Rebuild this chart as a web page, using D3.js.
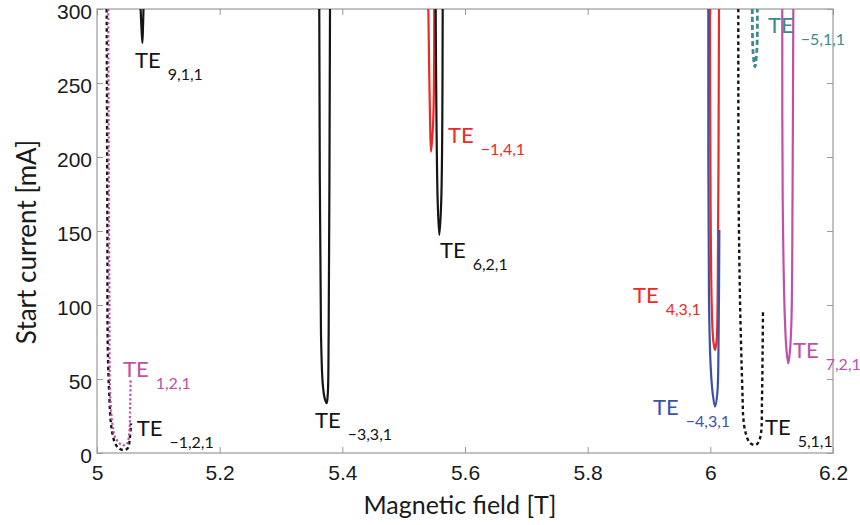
<!DOCTYPE html>
<html>
<head>
<meta charset="utf-8">
<title>Start current vs magnetic field</title>
<script src="https://cdn.jsdelivr.net/npm/d3@7"></script>
<style type="text/css">
    body { margin: 0; background: #fff; overflow: hidden; }
    #container svg { font-family: Lato, 'Open Sans', sans-serif; }
</style>
</head>
<body>
<div id="container"></div>
<script>
    // tick values
    var xTicks = [5, 5.2, 5.4, 5.6, 5.8, 6, 6.2];
    var yTicks = [0, 50, 100, 150, 200, 250, 300];

    // mode names (subscripts of TE)
    var modeNames = ["9,1,1", "\u22123,3,1", "\u22121,4,1", "6,2,1", "\u22121,2,1", "1,2,1",
                     "4,3,1", "\u22124,3,1", "5,1,1", "\u22125,1,1", "7,2,1"];

    // [B (T), start current (mA)]
    var te911 = [[5.0711, 300], [5.0724, 288], [5.0740, 277], [5.0750, 288], [5.0758, 300]];
    var teM331 = [[5.3624, 300], [5.3652, 81], [5.3680, 47], [5.3712, 37], [5.3745, 33.6],
                  [5.3763, 40], [5.3777, 81], [5.3799, 300]];
    var teM141 = [[5.5402, 300], [5.5430, 225], [5.5446, 203.6], [5.5482, 225], [5.5499, 300]];
    var te621 = [[5.5522, 300], [5.5554, 171], [5.5581, 147.3], [5.5613, 171], [5.5636, 300]];
    var teM121 = [[5.0158, 300], [5.0170, 150], [5.0176, 72], [5.0201, 38], [5.0223, 22],
                  [5.0250, 13.5], [5.0293, 6.8], [5.0347, 3.4], [5.0429, 2], [5.0500, 3.2],
                  [5.0538, 11], [5.0554, 20]];
    var te121 = [[5.0184, 300], [5.0201, 117], [5.0217, 38], [5.0250, 20], [5.0293, 11],
                 [5.0401, 5.4], [5.0483, 6], [5.0527, 13.3], [5.0538, 27], [5.0549, 50.5]];
    var te431 = [[5.9994, 300], [6.0021, 103], [6.0048, 76], [6.0076, 69.6], [6.0102, 76],
                 [6.0119, 103], [6.0141, 300]];
    var teM431 = [[5.9967, 300], [5.9978, 103], [6.0006, 58], [6.0038, 40.5], [6.0076, 31.3],
                  [6.0114, 40.5], [6.0135, 81], [6.0147, 150.7]];
    var te511 = [[6.0456, 300], [6.0462, 171], [6.0484, 103], [6.0511, 58], [6.0527, 36],
                 [6.0537, 24], [6.0576, 13.5], [6.0646, 6.8], [6.0728, 5.4], [6.0782, 7],
                 [6.0826, 13.3], [6.0842, 36], [6.0853, 70], [6.0858, 95.5]];
    var teM511 = [[6.0684, 300], [6.0695, 272], [6.0726, 261], [6.0758, 272], [6.0766, 300]];
    var te721 = [[6.1173, 300], [6.1180, 171], [6.1216, 90], [6.1245, 68], [6.1271, 60.6],
                 [6.1296, 68], [6.1323, 90], [6.1340, 171], [6.1353, 300]];

    var curves = [te911, teM331, teM141, te621, teM121, te121, te431, teM431, te511, teM511, te721];

    // where each "TE" label sits, in data coordinates
    var labelAt = [[5.0620, 260.1], [5.3554, 16.9], [5.5723, 209.7], [5.5592, 131.8], [5.0647, 11.5],
                   [5.0424, 51.6], [5.8739, 101.4], [5.9065, 25.7], [6.0891, 12.2], [6.0940, 283.8],
                   [6.1348, 64.2]];

    var styleOf = ["black", "black", "red", "black", "blackDot", "pinkDot",
                   "red", "blue", "blackDot", "tealDot", "pink"];

    var styles = {
        black:    { color: "#151515", width: 2.2, dash: null },
        red:      { color: "#ee2a24", width: 2.2, dash: null },
        blue:     { color: "#3a52a8", width: 2.2, dash: null },
        pink:     { color: "#c04fab", width: 2.2, dash: null },
        blackDot: { color: "#151515", width: 2.4, dash: "3.5,3" },
        pinkDot:  { color: "#c04fab", width: 2.2, dash: "2.2,2.2" },
        tealDot:  { color: "#3b8a8f", width: 2.8, dash: "5,3" }
    };

    function reDraw() {
        var width = 860, height = 525;
        var left = 97, right = 833, top = 9, bottom = 453;

        var chart = d3.select("#container").append("svg")
            .attr("width", width).attr("height", height);

        var x = d3.scaleLinear().domain([5, 6.2]).range([left, right]);
        var y = d3.scaleLinear().domain([0, 300]).range([bottom, top]);

        chart.append("defs").append("clipPath").attr("id", "plot")
            .append("rect").attr("x", left).attr("y", top)
            .attr("width", right - left).attr("height", bottom - top);

        var frame = "#9a9a9a";

        // ticks on all four sides, pointing in
        chart.append("g").attr("transform", "translate(0," + bottom + ")")
            .call(d3.axisBottom(x).tickValues(xTicks).tickSize(-6).tickFormat(d3.format("")))
            .call(styleAxis)
            .selectAll("text").attr("y", 7).attr("dy", "0.95em");
        chart.append("g").attr("transform", "translate(0," + top + ")")
            .call(d3.axisTop(x).tickValues(xTicks).tickSize(-6).tickFormat(""))
            .call(styleAxis);
        chart.append("g").attr("transform", "translate(" + left + ",0)")
            .call(d3.axisLeft(y).tickValues(yTicks).tickSize(-6).tickFormat(d3.format("d")))
            .call(styleAxis)
            .selectAll("text").attr("x", -5).attr("dy", "0.45em");
        chart.append("g").attr("transform", "translate(" + right + ",0)")
            .call(d3.axisRight(y).tickValues(yTicks).tickSize(-6).tickFormat(""))
            .call(styleAxis);

        function styleAxis(g) {
            g.select(".domain").remove();
            g.selectAll(".tick line").attr("stroke", frame).attr("stroke-width", 1);
            g.selectAll("text").attr("fill", "#1a1a1a").attr("font-size", 21);
        }

        chart.append("rect").attr("x", left).attr("y", top)
            .attr("width", right - left).attr("height", bottom - top)
            .attr("fill", "none").attr("stroke", frame).attr("stroke-width", 1.2);

        // curves
        var line = d3.line()
            .x(function (d) { return x(d[0]); })
            .y(function (d) { return y(d[1]); })
            .curve(d3.curveCatmullRom.alpha(0.5));

        var g = chart.append("g").attr("clip-path", "url(#plot)");
        curves.forEach(function (pts, i) {
            var s = styles[styleOf[i]];
            g.append("path").attr("d", line(pts))
                .attr("fill", "none").attr("stroke", s.color)
                .attr("stroke-width", s.width)
                .attr("stroke-dasharray", s.dash);
        });

        // labels
        modeNames.forEach(function (name, i) {
            var s = styles[styleOf[i]];
            var t = chart.append("text")
                .attr("x", x(labelAt[i][0])).attr("y", y(labelAt[i][1]))
                .attr("fill", s.color).attr("font-size", 22);
            t.append("tspan").text("TE");
            t.append("tspan").attr("dx", 7).attr("dy", 12)
                .attr("font-size", 16).text(name);
        });

        // axis titles
        chart.append("text").attr("x", 460).attr("y", 514)
            .attr("text-anchor", "middle").attr("font-size", 25).attr("fill", "#1a1a1a")
            .text("Magnetic field [T]");
        chart.append("text")
            .attr("transform", "translate(36," + 242 + ") rotate(-90)")
            .attr("text-anchor", "middle").attr("font-size", 26).attr("fill", "#1a1a1a")
            .text("Start current [mA]");
    }

    reDraw();
</script>
</body>
</html>
